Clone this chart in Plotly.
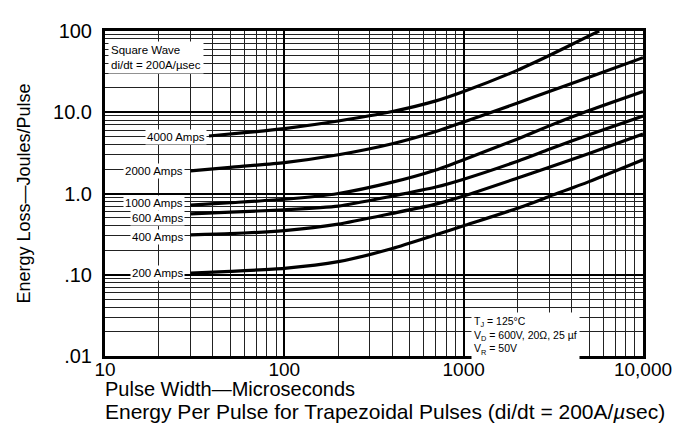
import math
import plotly.graph_objects as go

# pulse width (microseconds) and energy loss (joules/pulse)
width_us = [30, 50, 100, 200, 400, 700, 1000, 2000, 3000, 5000, 10000]
width_us_4000 = [38, 60, 100, 200, 400, 700, 1000, 2000, 3000, 5000, 5700]

energy_4000 = [5.1, 5.6, 6.3, 7.8, 10.2, 13.8, 18, 33, 50, 87, 100]
energy_2000 = [1.9, 2.1, 2.4, 3.0, 4.1, 5.8, 7.6, 13, 18, 27, 47]
energy_1000 = [0.72, 0.77, 0.85, 1.0, 1.38, 1.95, 2.6, 4.7, 6.8, 10.5, 18]
energy_600 = [0.56, 0.59, 0.63, 0.70, 0.93, 1.2, 1.5, 2.5, 3.5, 5.3, 9]
energy_400 = [0.31, 0.32, 0.35, 0.42, 0.57, 0.74, 0.93, 1.55, 2.1, 3.1, 5.4]
energy_200 = [0.105, 0.11, 0.12, 0.145, 0.21, 0.31, 0.40, 0.66, 0.92, 1.4, 2.6]

curve_names = ["4000 Amps", "2000 Amps", "1000 Amps", "600 Amps", "400 Amps", "200 Amps"]
curve_x = [width_us_4000, width_us, width_us, width_us, width_us, width_us]
curve_y = [energy_4000, energy_2000, energy_1000, energy_600, energy_400, energy_200]
label_x = [37, 28, 28, 28, 28, 28]
label_y = [4.9, 1.9, 0.77, 0.50, 0.29, 0.105]

x_ticks = [10, 100, 1000, 10000]
x_ticktext = ["10", "100", "1000", "10,000"]
y_ticks = [0.01, 0.1, 1, 10, 100]
y_ticktext = [".01", ".10", "1.0", "10.0", "100"]

FONT = "Liberation Sans, Arial, sans-serif"

fig = go.Figure()
for name, xs, ys in zip(curve_names, curve_x, curve_y):
    fig.add_trace(go.Scatter(
        x=xs, y=ys, name=name, mode="lines",
        line=dict(color="black", width=3.2, shape="spline", smoothing=0.6),
        showlegend=False,
    ))

for name, lx, ly in zip(curve_names, label_x, label_y):
    fig.add_annotation(
        x=math.log10(lx), y=math.log10(ly),
        text=name, showarrow=False, xanchor="right", yanchor="middle",
        font=dict(size=11.5, color="black", family=FONT),
        bgcolor="white", borderpad=1,
    )

# condition boxes
fig.add_annotation(
    xref="paper", yref="paper", x=0.006, y=0.968, xanchor="left", yanchor="top",
    text="Square Wave<br>di/dt = 200A/µsec", align="left", showarrow=False,
    font=dict(size=11.5, color="black", family=FONT), bgcolor="white", borderpad=2,
)
fig.add_annotation(
    xref="paper", yref="paper", x=0.68, y=0.135, xanchor="left", yanchor="top",
    text="T<sub>J</sub> = 125°C<br>V<sub>D</sub> = 600V, 20Ω, 25 µf<br>V<sub>R</sub> = 50V",
    align="left", showarrow=False,
    font=dict(size=10.5, color="black", family=FONT), bgcolor="white", borderpad=2,
)

# x-axis caption lines
fig.add_annotation(
    xref="paper", yref="paper", x=-0.004, y=-0.1, xanchor="left", yanchor="middle",
    text="Pulse Width—Microseconds", showarrow=False,
    font=dict(size=20, color="black", family=FONT),
)
fig.add_annotation(
    xref="paper", yref="paper", x=-0.004, y=-0.172, xanchor="left", yanchor="middle",
    text="Energy Per Pulse for Trapezoidal Pulses (di/dt = 200A/<i>µ</i>sec)", showarrow=False,
    font=dict(size=21, color="black", family=FONT),
)

fig.update_xaxes(
    type="log", range=[1, 4], tickvals=x_ticks, ticktext=x_ticktext,
    showline=True, mirror=True, linewidth=3, linecolor="black", ticks="", ticklen=0,
    ticklabelstandoff=-6,
    showgrid=True, gridcolor="#000", gridwidth=2,
    minor=dict(showgrid=True, dtick="D1", gridcolor="#222", gridwidth=1, ticks=""),
    tickfont=dict(size=19, color="black", family=FONT),
    zeroline=False,
)
fig.update_yaxes(
    type="log", range=[-2, 2], tickvals=y_ticks, ticktext=y_ticktext,
    showline=True, mirror=True, linewidth=3, linecolor="black", ticks="", ticklen=0,
    ticklabelstandoff=6,
    showgrid=True, gridcolor="#000", gridwidth=2,
    minor=dict(showgrid=True, dtick="D1", gridcolor="#222", gridwidth=1, ticks=""),
    tickfont=dict(size=20, color="black", family=FONT),
    title=dict(text="Energy Loss—Joules/Pulse", font=dict(size=18, color="black", family=FONT), standoff=18),
    zeroline=False,
)
fig.update_layout(
    width=685, height=428,
    margin=dict(l=97, r=50, t=12, b=80),
    paper_bgcolor="white", plot_bgcolor="white",
    font=dict(family=FONT, color="black"),
)

fig.write_html("out.html")
